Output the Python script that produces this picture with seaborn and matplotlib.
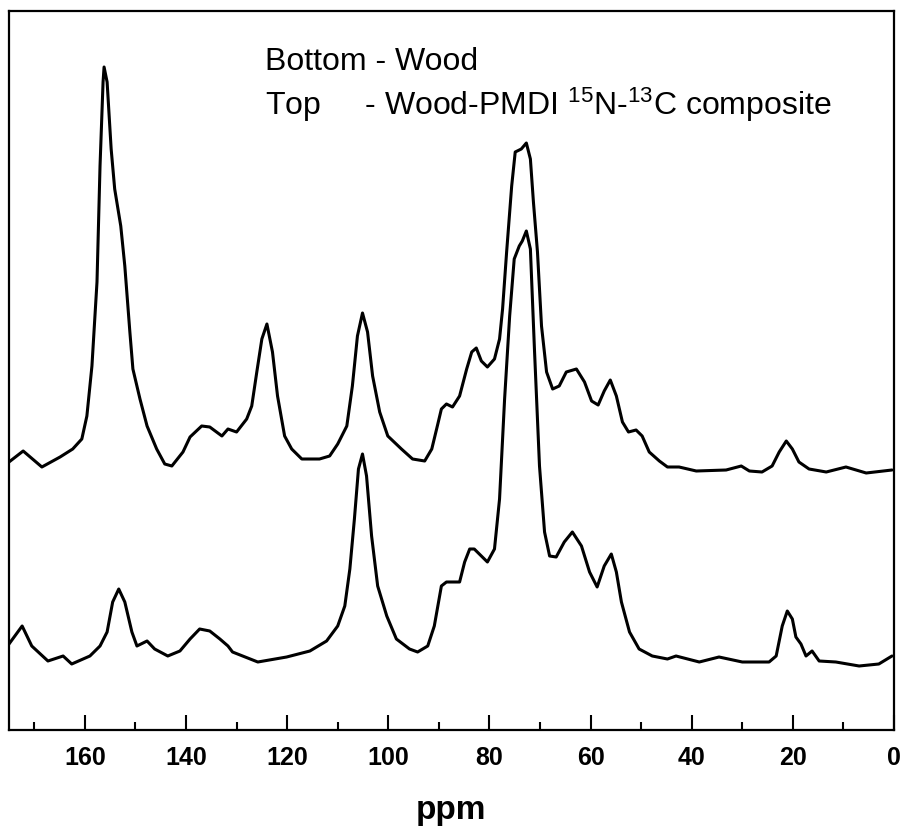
import numpy as np
import pandas as pd
import matplotlib
matplotlib.use("Agg")
import matplotlib.pyplot as plt
import seaborn as sns

# ---- data (intensity in arbitrary units) ----
composite_ppm = [175.0, 172.2, 168.5, 164.9, 162.4, 160.6, 159.6, 158.6, 157.6, 157.0,
                 156.4, 156.2, 155.6, 154.8, 154.1, 152.9, 152.1, 151.1, 150.5, 149.1,
                 147.7, 145.8, 144.2, 142.8, 140.6, 139.2, 136.9, 135.3, 132.9, 131.7,
                 130.0, 128.0, 127.0, 126.0, 125.0, 124.0, 122.9, 121.9, 120.5, 119.1,
                 117.1, 113.6, 111.6, 110.0, 108.2, 107.1, 106.1, 105.1, 104.1, 103.1,
                 101.7, 100.1, 97.4, 95.2, 92.8, 91.4, 90.3, 89.5, 88.5, 87.3,
                 85.9, 84.5, 83.5, 82.6, 81.6, 80.4, 79.0, 78.0, 77.4, 76.6,
                 75.6, 74.9, 73.7, 72.7, 71.9, 71.3, 70.5, 69.7, 68.7, 67.5,
                 66.2, 64.8, 62.8, 61.2, 59.8, 58.5, 57.3, 56.1, 54.9, 53.7,
                 52.5, 51.0, 49.8, 48.4, 46.4, 44.8, 42.5, 39.1, 33.2, 30.2,
                 28.6, 26.1, 24.1, 22.7, 21.3, 20.1, 18.8, 16.8, 13.4, 9.5,
                 5.5, 0.4]
composite_int = [268, 279, 263, 273, 281, 291, 314, 364, 448, 564,
                 648, 663, 648, 581, 541, 504, 464, 398, 361, 331,
                 304, 281, 266, 264, 278, 293, 304, 303, 294, 301,
                 298, 311, 324, 358, 391, 406, 378, 334, 294, 281,
                 271, 271, 274, 286, 304, 344, 394, 417, 398, 354,
                 318, 294, 281, 271, 269, 281, 304, 321, 326, 323,
                 334, 361, 378, 382, 369, 363, 371, 391, 421, 478,
                 544, 578, 581, 587, 571, 528, 478, 404, 358, 341,
                 344, 358, 361, 348, 329, 325, 339, 350, 334, 308,
                 298, 300, 294, 278, 269, 263, 263, 259, 260, 264,
                 259, 258, 264, 278, 289, 281, 268, 261, 258, 263,
                 257, 260]

wood_ppm = [175.0, 172.4, 170.5, 167.3, 164.3, 162.6, 159.0, 157.0, 155.6, 154.5,
            153.3, 152.1, 150.7, 149.7, 147.7, 146.2, 143.6, 141.2, 139.2, 137.3,
            135.3, 133.3, 131.7, 130.8, 125.8, 120.1, 115.5, 112.2, 110.0, 108.6,
            107.6, 106.7, 105.9, 105.1, 104.3, 103.3, 102.1, 100.3, 98.4, 95.8,
            94.2, 92.2, 90.9, 89.5, 88.5, 85.9, 84.9, 83.9, 83.0, 80.4,
            79.0, 78.0, 77.0, 76.0, 75.1, 74.1, 73.5, 72.7, 71.9, 71.1,
            70.1, 69.1, 68.1, 66.8, 65.2, 63.6, 61.8, 60.2, 58.7, 57.3,
            55.9, 54.9, 53.9, 52.3, 50.4, 47.8, 44.8, 43.1, 38.5, 34.6,
            30.0, 24.7, 23.3, 22.1, 21.1, 20.1, 19.4, 18.4, 17.4, 16.2,
            14.8, 11.5, 6.9, 3.0, 0.4]
wood_int = [86, 104, 84, 69, 74, 66, 74, 84, 98, 128,
            141, 128, 98, 84, 89, 81, 74, 79, 91, 101,
            99, 91, 84, 78, 68, 73, 79, 89, 104, 124,
            161, 211, 261, 276, 254, 194, 144, 114, 91, 81,
            78, 84, 104, 144, 148, 148, 168, 181, 181, 168,
            181, 231, 331, 414, 471, 484, 489, 499, 481, 381,
            264, 198, 174, 173, 188, 198, 184, 158, 143, 164,
            176, 158, 128, 98, 81, 74, 71, 74, 68, 73,
            68, 68, 74, 104, 119, 111, 93, 86, 74, 79,
            69, 68, 64, 66, 74]

xticks = [160, 140, 120, 100, 80, 60, 40, 20, 0]
xlabel = "ppm"
note_lines = ["Bottom - Wood",
              "Top     - Wood-PMDI $^{15}$N-$^{13}$C composite"]

df = pd.concat([
    pd.DataFrame({"ppm": composite_ppm, "intensity": composite_int, "sample": "composite"}),
    pd.DataFrame({"ppm": wood_ppm, "intensity": wood_int, "sample": "wood"}),
], ignore_index=True)

sns.set_style("ticks")
plt.rcParams["font.family"] = ["Liberation Sans", "DejaVu Sans"]
plt.rcParams["mathtext.fontset"] = "custom"
plt.rcParams["mathtext.rm"] = "Liberation Sans"
plt.rcParams["mathtext.it"] = "Liberation Sans"
plt.rcParams["text.color"] = "black"
plt.rcParams["axes.labelcolor"] = "black"
plt.rcParams["xtick.color"] = "black"
plt.rcParams["xtick.labelcolor"] = "black"

fig = plt.figure(figsize=(9.06, 8.28), dpi=100)
ax = fig.add_axes([9 / 906, 97 / 828, 885 / 906, 719 / 828])

sns.lineplot(data=df, x="ppm", y="intensity", units="sample", estimator=None,
             color="black", linewidth=2.2, ax=ax, legend=False)

ax.set_xlim(175, 0)
ax.set_ylim(0, 719)
ax.set_xticks(xticks)
ax.set_xticks(np.arange(170, 0, -20), minor=True)
ax.set_yticks([])
ax.tick_params(axis="x", which="major", direction="in", length=11, width=1.5,
               pad=11, labelsize=18, colors="black")
ax.tick_params(axis="x", which="minor", direction="in", length=6, width=1.5,
               colors="black")
for lbl in ax.get_xticklabels():
    lbl.set_fontweight("bold")
for sp in ax.spines.values():
    sp.set_visible(True)
    sp.set_linewidth(1.6)
    sp.set_color("black")

ax.set_xlabel(xlabel, fontsize=24, fontweight="bold", labelpad=18, color="black")
ax.set_ylabel("")

ax.text(0.289, 0.919, note_lines[0], transform=ax.transAxes, fontsize=23,
        ha="left", va="baseline", color="black")
ax.text(0.289, 0.857, note_lines[1], transform=ax.transAxes, fontsize=23,
        ha="left", va="baseline", color="black")

fig.savefig("out.png", dpi=100)
